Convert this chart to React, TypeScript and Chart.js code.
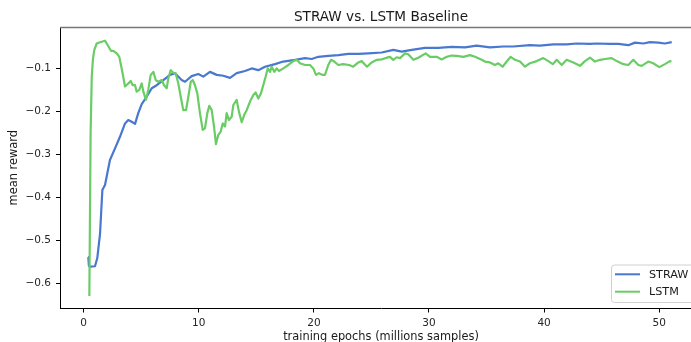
import { useEffect, useRef } from "react";
import { Chart, registerables } from "chart.js";

Chart.register(...registerables);

// Training curves: epochs in millions of samples, mean episode reward
const strawEpochs = [
  0.4, 0.45, 0.55, 0.98, 1.18, 1.42, 1.62, 1.85, 2.28, 2.72, 3.15, 3.59, 3.87, 4.17, 4.46,
  4.74, 5.04, 5.47, 5.91, 6.34, 6.92, 7.5, 7.93, 8.51, 8.8, 9.38, 9.96, 10.39, 10.97,
  11.56, 12.13, 12.71, 13.29, 14.01, 14.6, 15.17, 15.75, 16.62, 17.34, 18.36, 19.23,
  19.81, 20.38, 21.25, 22.12, 22.99, 23.86, 24.73, 25.89, 26.9, 27.63, 28.5, 29.65,
  30.81, 31.97, 33.13, 34.14, 35.3, 36.46, 37.32, 38.77, 39.64, 40.8, 41.96, 42.83,
  43.99, 44.57, 45.73, 46.45, 47.32, 47.9, 48.62, 49.2, 49.92, 50.5, 51.09,
];
const strawReward = [
  -0.54, -0.56, -0.562, -0.561, -0.542, -0.485, -0.384, -0.372, -0.314, -0.287, -0.26,
  -0.229, -0.221, -0.225, -0.23, -0.205, -0.184, -0.167, -0.147, -0.14, -0.128, -0.116,
  -0.112, -0.128, -0.132, -0.119, -0.114, -0.12, -0.109, -0.116, -0.118, -0.123, -0.112,
  -0.107, -0.101, -0.105, -0.097, -0.091, -0.085, -0.081, -0.077, -0.079, -0.074, -0.072,
  -0.07, -0.067, -0.067, -0.066, -0.064, -0.058, -0.062, -0.058, -0.053, -0.053, -0.051,
  -0.052, -0.048, -0.052, -0.05, -0.05, -0.047, -0.048, -0.045, -0.045, -0.043, -0.044,
  -0.043, -0.044, -0.044, -0.047, -0.041, -0.043, -0.04, -0.041, -0.043, -0.04,
];

const lstmEpochs = [
  0.49, 0.6, 0.7, 0.8, 0.92, 1.13, 1.42, 1.85, 2.0, 2.37, 2.57, 2.87, 3.09, 3.3,
  3.59, 3.87, 4.08, 4.26, 4.46, 4.6, 4.83, 5.04, 5.18, 5.41, 5.61, 5.82, 6.05, 6.26, 6.48,
  6.78, 6.98, 7.21, 7.35, 7.56, 7.78, 7.99, 8.22, 8.43, 8.65, 8.89, 9.09, 9.3, 9.47, 9.67,
  9.87, 10.1, 10.34, 10.54, 10.74, 10.91, 11.12, 11.32, 11.49, 11.69, 11.9, 12.08, 12.28,
  12.42, 12.62, 12.86, 13.0, 13.29, 13.49, 13.73, 13.95, 14.16, 14.45, 14.74, 14.94,
  15.17, 15.4, 15.6, 15.81, 15.99, 16.19, 16.33, 16.56, 16.77, 16.97, 17.34, 17.78, 18.21,
  18.51, 18.79, 19.23, 19.66, 19.95, 20.18, 20.44, 20.73, 20.96, 21.25, 21.49, 21.77,
  22.12, 22.55, 23.05, 23.42, 23.86, 24.15, 24.61, 25.02, 25.46, 25.89, 26.33, 26.61,
  26.9, 27.19, 27.48, 27.92, 28.2, 28.64, 29.07, 29.71, 30.09, 30.67, 31.1, 31.54, 31.97,
  32.41, 32.98, 33.56, 34.0, 34.58, 34.86, 35.3, 35.73, 36.02, 36.4, 36.75, 37.1, 37.47,
  37.91, 38.34, 38.77, 39.36, 39.93, 40.37, 40.75, 41.1, 41.53, 41.96, 42.54, 43.12,
  43.55, 43.99, 44.42, 44.86, 45.3, 45.87, 46.31, 46.88, 47.32, 47.75, 48.19, 48.48,
  49.05, 49.48, 50.01, 50.5, 50.93, 51.07,
];
const lstmReward = [
  -0.63, -0.25, -0.12, -0.08, -0.058, -0.043, -0.04, -0.0365, -0.043, -0.06, -0.06,
  -0.066, -0.074, -0.101, -0.143, -0.136, -0.13, -0.14, -0.14, -0.155, -0.151, -0.136,
  -0.155, -0.174, -0.151, -0.116, -0.109, -0.128, -0.132, -0.128, -0.14, -0.147, -0.124,
  -0.105, -0.111, -0.112, -0.136, -0.167, -0.198, -0.198, -0.167, -0.132, -0.128, -0.14,
  -0.159, -0.205, -0.244, -0.24, -0.205, -0.188, -0.198, -0.236, -0.277, -0.256, -0.248,
  -0.229, -0.236, -0.205, -0.221, -0.213, -0.186, -0.174, -0.202, -0.226, -0.209, -0.198,
  -0.178, -0.163, -0.157, -0.171, -0.159, -0.14, -0.12, -0.101, -0.109, -0.097, -0.109,
  -0.101, -0.107, -0.101, -0.093, -0.084, -0.081, -0.089, -0.093, -0.093, -0.101, -0.116,
  -0.112, -0.116, -0.116, -0.093, -0.081, -0.085, -0.093, -0.091, -0.093, -0.097, -0.087,
  -0.084, -0.097, -0.087, -0.081, -0.08, -0.076, -0.074, -0.081, -0.075, -0.077, -0.066,
  -0.068, -0.081, -0.076, -0.066, -0.074, -0.074, -0.08, -0.074, -0.071, -0.072, -0.074,
  -0.07, -0.074, -0.081, -0.085, -0.087, -0.093, -0.089, -0.097, -0.085, -0.074, -0.081,
  -0.085, -0.097, -0.089, -0.084, -0.077, -0.084, -0.091, -0.081, -0.093, -0.081, -0.087,
  -0.095, -0.084, -0.076, -0.085, -0.081, -0.079, -0.077, -0.084, -0.091, -0.093, -0.081,
  -0.093, -0.095, -0.085, -0.089, -0.098, -0.091, -0.084, -0.085,
];

const seriesNames = ["STRAW", "LSTM"];
const seriesColors = ["#4878CF", "#6ACC65"];
const xTicks = [0, 10, 20, 30, 40, 50];
const yTicks = [-0.6, -0.5, -0.4, -0.3, -0.2, -0.1];
const chartTitle = "STRAW vs. LSTM Baseline";
const xLabel = "training epochs (millions samples)";
const yLabel = "mean reward";

const FONT = "'DejaVu Sans', sans-serif";
const CANVAS_W = 712;
const CANVAS_H = 342;

const fmtTick = (v: number) => (v < 0 ? "\u2212" : "") + Math.abs(v).toFixed(1);

// Title, axis labels, top spine and legend box
const decorations = {
  id: "decorations",
  afterDraw(chart: any) {
    const { ctx, chartArea } = chart;
    const cx = (chartArea.left + chartArea.right) / 2;
    ctx.save();

    // top spine
    ctx.strokeStyle = "#777";
    ctx.lineWidth = 1.6;
    ctx.beginPath();
    ctx.moveTo(chartArea.left, chartArea.top + 0.5);
    ctx.lineTo(chartArea.right, chartArea.top + 0.5);
    ctx.stroke();

    ctx.fillStyle = "#1a1a1a";
    ctx.textAlign = "center";
    ctx.textBaseline = "alphabetic";
    ctx.font = `13.6px ${FONT}`;
    ctx.fillText(chartTitle, cx, 21);

    ctx.font = `11.4px ${FONT}`;
    ctx.fillText(xLabel, cx, 339.6);

    ctx.save();
    ctx.translate(16.5, (chartArea.top + chartArea.bottom) / 2);
    ctx.rotate(-Math.PI / 2);
    ctx.fillText(yLabel, 0, 0);
    ctx.restore();

    // legend
    const bx = 611.5, by = 265, bw = 90, bh = 37.5;
    ctx.beginPath();
    ctx.roundRect(bx, by, bw, bh, 3);
    ctx.fillStyle = "rgba(255,255,255,0.8)";
    ctx.fill();
    ctx.strokeStyle = "#d0d0d0";
    ctx.lineWidth = 1;
    ctx.stroke();

    const rows = [274.3, 291.7];
    ctx.font = `11.2px ${FONT}`;
    ctx.textAlign = "left";
    ctx.textBaseline = "middle";
    seriesNames.forEach((name, i) => {
      ctx.strokeStyle = seriesColors[i];
      ctx.lineWidth = 2;
      ctx.beginPath();
      ctx.moveTo(615, rows[i]);
      ctx.lineTo(640, rows[i]);
      ctx.stroke();
      ctx.fillStyle = "#1a1a1a";
      ctx.fillText(name, 649, rows[i] + 0.5);
    });
    ctx.restore();
  },
};

export default function App() {
  const canvasRef = useRef<HTMLCanvasElement | null>(null);

  useEffect(() => {
    const canvas = canvasRef.current;
    if (!canvas) return;
    const chart = new Chart(canvas, {
      type: "line",
      data: {
        datasets: [
          {
            label: seriesNames[0],
            data: strawEpochs.map((x, i) => ({ x, y: strawReward[i] })),
            borderColor: seriesColors[0],
            borderWidth: 2.2,
            pointRadius: 0,
            tension: 0,
            order: 2,
          },
          {
            label: seriesNames[1],
            data: lstmEpochs.map((x, i) => ({ x, y: lstmReward[i] })),
            borderColor: seriesColors[1],
            borderWidth: 2.2,
            pointRadius: 0,
            tension: 0,
            order: 1,
          },
        ],
      },
      options: {
        responsive: false,
        devicePixelRatio: 1,
        animation: false,
        parsing: false,
        layout: { padding: { left: 0, top: 27, right: 10, bottom: 0 } },
        plugins: { legend: { display: false }, tooltip: { enabled: false } },
        elements: { line: { borderJoinStyle: "round", borderCapStyle: "butt" } },
        scales: {
          x: {
            type: "linear",
            min: -2.06,
            max: 53.72,
            afterFit: (s: any) => {
              s.height = CANVAS_H - 308.5;
            },
            afterBuildTicks: (s: any) => {
              s.ticks = xTicks.map((v) => ({ value: v }));
            },
            grid: { drawOnChartArea: false, drawTicks: true, tickLength: 4, tickColor: "#000" },
            border: { display: true, color: "#000", width: 1 },
            ticks: {
              padding: 4,
              color: "#262626",
              font: { family: FONT, size: 10.5 },
              maxRotation: 0,
              callback: (v: any) => String(v),
            },
          },
          y: {
            type: "linear",
            min: -0.6593,
            max: -0.00465,
            afterFit: (s: any) => {
              s.width = 60;
            },
            afterBuildTicks: (s: any) => {
              s.ticks = yTicks.map((v) => ({ value: v }));
            },
            grid: { drawOnChartArea: false, drawTicks: true, tickLength: 4, tickColor: "#000" },
            border: { display: true, color: "#000", width: 1 },
            ticks: {
              padding: 5,
              color: "#262626",
              font: { family: FONT, size: 10.5 },
              callback: (v: any) => fmtTick(Number(v)),
            },
          },
        },
      },
      plugins: [decorations],
    });
    return () => chart.destroy();
  }, []);

  return (
    <div
      style={{
        position: "fixed",
        left: 0,
        top: 0,
        width: 691,
        height: 342,
        overflow: "hidden",
        background: "#fff",
      }}
    >
      <canvas
        ref={canvasRef}
        width={CANVAS_W}
        height={CANVAS_H}
        style={{ display: "block", width: CANVAS_W, height: CANVAS_H }}
      />
    </div>
  );
}
